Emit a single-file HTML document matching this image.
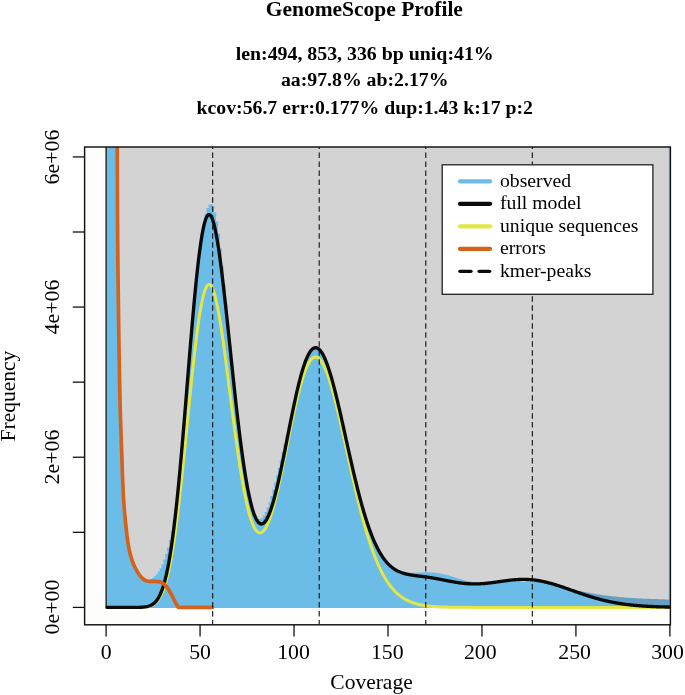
<!DOCTYPE html><html><head><meta charset="utf-8"><title>GenomeScope Profile</title><style>
html,body{margin:0;padding:0}
body{width:685px;height:695px;position:relative;overflow:hidden;background:#ffffff;font-family:"Liberation Serif",serif;color:#000}
.t{position:absolute;white-space:nowrap;line-height:1}
.c{transform:translateX(-50%)}
.b{font-weight:bold}
.leg{font-size:19.7px;left:500.0px}
.xt{font-size:21.8px;transform:translateX(-50%);top:642.1px}
.yt{font-size:21.9px;transform-origin:0 0;transform:rotate(-90deg) translateX(-50%);left:41.2px}
</style></head><body>
<svg width="685" height="695" viewBox="0 0 685 695" style="position:absolute;left:0;top:0">
<defs><clipPath id="c"><rect x="84.6" y="147.0" width="585.8" height="477.79999999999995"/></clipPath></defs>
<rect x="84.6" y="147.0" width="585.8" height="477.79999999999995" fill="#fdfdfb"/>
<g clip-path="url(#c)">
<rect x="106.1" y="142.0" width="569.3" height="465.4" fill="#d3d3d3"/>
<path d="M567.12,607.90 L567.12,588.52 L569.70,588.52 L569.00,589.06 L571.58,589.06 L570.88,589.42 L573.46,589.42 L572.76,589.79 L575.34,589.79 L574.64,590.16 L577.21,590.16 L576.51,590.53 L579.09,590.53 L578.39,590.90 L580.97,590.90 L580.27,591.28 L582.85,591.28 L582.15,591.67 L584.73,591.67 L584.03,592.05 L586.61,592.05 L585.91,592.44 L588.49,592.44 L587.79,592.83 L590.37,592.83 L589.67,593.19 L592.25,593.19 L591.55,593.51 L594.13,593.51 L593.43,593.82 L596.01,593.82 L595.31,594.13 L597.89,594.13 L597.19,594.45 L599.77,594.45 L599.07,594.76 L601.65,594.76 L600.95,595.01 L603.52,595.01 L602.82,595.24 L605.40,595.24 L604.70,595.48 L607.28,595.48 L606.58,595.72 L609.16,595.72 L608.46,595.96 L611.04,595.96 L610.34,596.18 L612.92,596.18 L612.22,596.38 L614.80,596.38 L614.10,596.59 L616.68,596.59 L615.98,596.79 L618.56,596.79 L617.86,597.00 L620.44,597.00 L619.74,597.20 L622.32,597.20 L621.62,597.35 L624.20,597.35 L623.50,597.49 L626.08,597.49 L625.38,597.64 L627.96,597.64 L627.26,597.79 L629.84,597.79 L629.14,597.93 L631.71,597.93 L631.01,598.06 L633.59,598.06 L632.89,598.16 L635.47,598.16 L634.77,598.27 L637.35,598.27 L636.65,598.38 L639.23,598.38 L638.53,598.49 L641.11,598.49 L640.41,598.59 L642.99,598.59 L642.29,598.66 L644.87,598.66 L644.17,598.72 L646.75,598.72 L646.05,598.78 L648.63,598.78 L647.93,598.84 L650.51,598.84 L649.81,598.90 L652.39,598.90 L651.69,598.96 L654.27,598.96 L653.57,599.02 L656.15,599.02 L655.45,599.08 L658.02,599.08 L657.32,599.14 L659.90,599.14 L659.20,599.20 L661.78,599.20 L661.08,599.26 L663.66,599.26 L662.96,599.32 L665.54,599.32 L664.84,599.38 L667.42,599.38 L666.72,599.44 L669.30,599.44 L668.60,599.50 L671.18,599.50 L671.18,607.90Z" fill="#65a0c3"/>
<path d="M106.69,607.90 L106.69,100.00 L109.27,100.00 L108.57,100.00 L111.15,100.00 L110.45,100.00 L113.03,100.00 L112.33,100.00 L114.91,100.00 L114.21,100.00 L116.79,100.00 L116.09,184.12 L118.67,184.12 L117.97,362.91 L120.54,362.91 L119.84,437.02 L122.42,437.02 L121.72,487.68 L124.30,487.68 L123.60,515.81 L126.18,515.81 L125.48,533.70 L128.06,533.70 L127.36,546.80 L129.94,546.80 L129.24,555.21 L131.82,555.21 L131.12,561.29 L133.70,561.29 L133.00,565.91 L135.58,565.91 L134.88,569.58 L137.46,569.58 L136.76,572.74 L139.34,572.74 L138.64,575.42 L141.22,575.42 L140.52,577.48 L143.10,577.48 L142.40,579.07 L144.98,579.07 L144.28,579.83 L146.85,579.83 L146.15,580.09 L148.73,580.09 L148.03,579.86 L150.61,579.86 L149.91,579.08 L152.49,579.08 L151.79,577.93 L154.37,577.93 L153.67,576.33 L156.25,576.33 L155.55,574.23 L158.13,574.23 L157.43,571.49 L160.01,571.49 L159.31,568.17 L161.89,568.17 L161.19,564.23 L163.77,564.23 L163.07,559.49 L165.65,559.49 L164.95,553.94 L167.53,553.94 L166.83,547.57 L169.41,547.57 L168.71,540.04 L171.29,540.04 L170.59,531.05 L173.17,531.05 L172.47,520.55 L175.04,520.55 L174.34,508.50 L176.92,508.50 L176.22,494.03 L178.80,494.03 L178.10,476.08 L180.68,476.08 L179.98,455.45 L182.56,455.45 L181.86,433.68 L184.44,433.68 L183.74,411.10 L186.32,411.10 L185.62,388.04 L188.20,388.04 L187.50,364.91 L190.08,364.91 L189.38,342.12 L191.96,342.12 L191.26,320.08 L193.84,320.08 L193.14,299.19 L195.72,299.19 L195.02,279.81 L197.60,279.81 L196.90,262.25 L199.48,262.25 L198.78,246.74 L201.35,246.74 L200.65,233.47 L203.23,233.47 L202.53,222.53 L205.11,222.53 L204.41,214.02 L206.99,214.02 L206.29,208.03 L208.87,208.03 L208.17,204.68 L210.75,204.68 L210.05,204.17 L212.63,204.17 L211.93,206.70 L214.51,206.70 L213.81,212.45 L216.39,212.45 L215.69,221.48 L218.27,221.48 L217.57,233.65 L220.15,233.65 L219.45,248.62 L222.03,248.62 L221.33,265.85 L223.91,265.85 L223.21,284.68 L225.79,284.68 L225.09,304.45 L227.66,304.45 L226.96,324.54 L229.54,324.54 L228.84,344.50 L231.42,344.50 L230.72,363.96 L233.30,363.96 L232.60,382.70 L235.18,382.70 L234.48,400.59 L237.06,400.59 L236.36,417.51 L238.94,417.51 L238.24,433.37 L240.82,433.37 L240.12,448.10 L242.70,448.10 L242.00,461.62 L244.58,461.62 L243.88,473.85 L246.46,473.85 L245.76,484.71 L248.34,484.71 L247.64,494.15 L250.22,494.15 L249.52,502.12 L252.10,502.12 L251.40,508.56 L253.98,508.56 L253.28,513.47 L255.85,513.47 L255.15,516.83 L257.73,516.83 L257.03,518.66 L259.61,518.66 L258.91,519.00 L261.49,519.00 L260.79,517.94 L263.37,517.94 L262.67,515.57 L265.25,515.57 L264.55,512.04 L267.13,512.04 L266.43,507.51 L269.01,507.51 L268.31,502.14 L270.89,502.14 L270.19,496.10 L272.77,496.10 L272.07,489.54 L274.65,489.54 L273.95,482.60 L276.53,482.60 L275.83,475.36 L278.41,475.36 L277.71,467.89 L280.29,467.89 L279.59,460.22 L282.16,460.22 L281.46,452.37 L284.04,452.37 L283.34,444.34 L285.92,444.34 L285.22,436.15 L287.80,436.15 L287.10,427.84 L289.68,427.84 L288.98,419.47 L291.56,419.47 L290.86,411.10 L293.44,411.10 L292.74,402.83 L295.32,402.83 L294.62,394.77 L297.20,394.77 L296.50,387.04 L299.08,387.04 L298.38,379.76 L300.96,379.76 L300.26,373.02 L302.84,373.02 L302.14,366.94 L304.72,366.94 L304.02,361.58 L306.60,361.58 L305.90,357.04 L308.47,357.04 L307.77,353.35 L310.35,353.35 L309.65,350.57 L312.23,350.57 L311.53,348.71 L314.11,348.71 L313.41,347.79 L315.99,347.79 L315.29,347.81 L317.87,347.81 L317.17,348.76 L319.75,348.76 L319.05,350.62 L321.63,350.62 L320.93,353.35 L323.51,353.35 L322.81,356.90 L325.39,356.90 L324.69,361.24 L327.27,361.24 L326.57,366.31 L329.15,366.31 L328.45,372.04 L331.03,372.04 L330.33,378.36 L332.91,378.36 L332.21,385.21 L334.78,385.21 L334.08,392.52 L336.66,392.52 L335.96,400.20 L338.54,400.20 L337.84,408.19 L340.42,408.19 L339.72,416.42 L342.30,416.42 L341.60,424.80 L344.18,424.80 L343.48,433.28 L346.06,433.28 L345.36,441.79 L347.94,441.79 L347.24,450.26 L349.82,450.26 L349.12,458.65 L351.70,458.65 L351.00,466.89 L353.58,466.89 L352.88,474.94 L355.46,474.94 L354.76,482.76 L357.34,482.76 L356.64,490.31 L359.22,490.31 L358.52,497.56 L361.10,497.56 L360.40,504.49 L362.97,504.49 L362.27,511.07 L364.85,511.07 L364.15,517.29 L366.73,517.29 L366.03,523.13 L368.61,523.13 L367.91,528.60 L370.49,528.60 L369.79,533.68 L372.37,533.68 L371.67,538.38 L374.25,538.38 L373.55,542.71 L376.13,542.71 L375.43,546.67 L378.01,546.67 L377.31,550.27 L379.89,550.27 L379.19,553.53 L381.77,553.53 L381.07,556.46 L383.65,556.46 L382.95,559.07 L385.53,559.07 L384.83,561.38 L387.41,561.38 L386.71,563.42 L389.28,563.42 L388.58,565.19 L391.16,565.19 L390.46,566.72 L393.04,566.72 L392.34,568.02 L394.92,568.02 L394.22,569.12 L396.80,569.12 L396.10,570.04 L398.68,570.04 L397.98,570.78 L400.56,570.78 L399.86,571.38 L402.44,571.38 L401.74,571.84 L404.32,571.84 L403.62,572.18 L406.20,572.18 L405.50,572.42 L408.08,572.42 L407.38,572.57 L409.96,572.57 L409.26,572.66 L411.84,572.66 L411.14,572.68 L413.72,572.68 L413.02,572.67 L415.59,572.67 L414.89,572.62 L417.47,572.62 L416.77,572.55 L419.35,572.55 L418.65,572.48 L421.23,572.48 L420.53,572.40 L423.11,572.40 L422.41,572.35 L424.99,572.35 L424.29,572.31 L426.87,572.31 L426.17,572.30 L428.75,572.30 L428.05,572.34 L430.63,572.34 L429.93,572.41 L432.51,572.41 L431.81,572.54 L434.39,572.54 L433.69,572.71 L436.27,572.71 L435.57,572.94 L438.15,572.94 L437.45,573.22 L440.03,573.22 L439.33,573.56 L441.91,573.56 L441.21,573.95 L443.78,573.95 L443.08,574.38 L445.66,574.38 L444.96,574.86 L447.54,574.86 L446.84,575.37 L449.42,575.37 L448.72,575.91 L451.30,575.91 L450.60,576.48 L453.18,576.48 L452.48,577.06 L455.06,577.06 L454.36,577.65 L456.94,577.65 L456.24,578.23 L458.82,578.23 L458.12,578.80 L460.70,578.80 L460.00,579.36 L462.58,579.36 L461.88,579.89 L464.46,579.89 L463.76,580.38 L466.34,580.38 L465.64,580.84 L468.22,580.84 L467.52,581.26 L470.09,581.26 L469.39,581.62 L471.97,581.62 L471.27,581.94 L473.85,581.94 L473.15,582.21 L475.73,582.21 L475.03,582.42 L477.61,582.42 L476.91,582.59 L479.49,582.59 L478.79,582.70 L481.37,582.70 L480.67,582.77 L483.25,582.77 L482.55,582.79 L485.13,582.79 L484.43,582.77 L487.01,582.77 L486.31,582.72 L488.89,582.72 L488.19,582.64 L490.77,582.64 L490.07,582.54 L492.65,582.54 L491.95,582.42 L494.53,582.42 L493.83,582.29 L496.40,582.29 L495.70,582.16 L498.28,582.16 L497.58,582.03 L500.16,582.03 L499.46,581.91 L502.04,581.91 L501.34,581.80 L503.92,581.80 L503.22,581.71 L505.80,581.71 L505.10,581.63 L507.68,581.63 L506.98,581.58 L509.56,581.58 L508.86,581.54 L511.44,581.54 L510.74,581.52 L513.32,581.52 L512.62,581.52 L515.20,581.52 L514.50,581.53 L517.08,581.53 L516.38,581.55 L518.96,581.55 L518.26,581.57 L520.84,581.57 L520.14,581.61 L522.71,581.61 L522.01,581.64 L524.59,581.64 L523.89,581.67 L526.47,581.67 L525.77,581.71 L528.35,581.71 L527.65,581.75 L530.23,581.75 L529.53,581.80 L532.11,581.80 L531.41,581.86 L533.99,581.86 L533.29,581.94 L535.87,581.94 L535.17,582.03 L537.75,582.03 L537.05,582.16 L539.63,582.16 L538.93,582.31 L541.51,582.31 L540.81,582.50 L543.39,582.50 L542.69,582.73 L545.27,582.73 L544.57,583.00 L547.15,583.00 L546.45,583.32 L549.03,583.32 L548.33,583.68 L550.90,583.68 L550.20,584.08 L552.78,584.08 L552.08,584.53 L554.66,584.53 L553.96,585.01 L556.54,585.01 L555.84,585.53 L558.42,585.53 L557.72,586.07 L560.30,586.07 L559.60,586.65 L562.18,586.65 L561.48,587.25 L564.06,587.25 L563.36,587.87 L565.94,587.87 L565.24,588.50 L567.82,588.50 L567.12,589.11 L569.70,589.11 L569.00,589.78 L571.58,589.78 L570.88,590.45 L573.46,590.45 L572.76,591.11 L575.34,591.11 L574.64,591.78 L577.21,591.78 L576.51,592.44 L579.09,592.44 L578.39,593.09 L580.97,593.09 L580.27,593.74 L582.85,593.74 L582.15,594.38 L584.73,594.38 L584.03,595.00 L586.61,595.00 L585.91,595.61 L588.49,595.61 L587.79,596.21 L590.37,596.21 L589.67,596.79 L592.25,596.79 L591.55,597.36 L594.13,597.36 L593.43,597.91 L596.01,597.91 L595.31,598.45 L597.89,598.45 L597.19,598.96 L599.77,598.96 L599.07,599.46 L601.65,599.46 L600.95,599.94 L603.52,599.94 L602.82,600.40 L605.40,600.40 L604.70,600.84 L607.28,600.84 L606.58,601.26 L609.16,601.26 L608.46,601.66 L611.04,601.66 L610.34,602.05 L612.92,602.05 L612.22,602.41 L614.80,602.41 L614.10,602.76 L616.68,602.76 L615.98,603.08 L618.56,603.08 L617.86,603.39 L620.44,603.39 L619.74,603.69 L622.32,603.69 L621.62,603.96 L624.20,603.96 L623.50,604.22 L626.08,604.22 L625.38,604.47 L627.96,604.47 L627.26,604.69 L629.84,604.69 L629.14,604.91 L631.71,604.91 L631.01,605.11 L633.59,605.11 L632.89,605.30 L635.47,605.30 L634.77,605.47 L637.35,605.47 L636.65,605.63 L639.23,605.63 L638.53,605.78 L641.11,605.78 L640.41,605.92 L642.99,605.92 L642.29,606.05 L644.87,606.05 L644.17,606.17 L646.75,606.17 L646.05,606.28 L648.63,606.28 L647.93,606.38 L650.51,606.38 L649.81,606.47 L652.39,606.47 L651.69,606.56 L654.27,606.56 L653.57,606.64 L656.15,606.64 L655.45,606.71 L658.02,606.71 L657.32,606.78 L659.90,606.78 L659.20,606.84 L661.78,606.84 L661.08,606.89 L663.66,606.89 L662.96,606.94 L665.54,606.94 L664.84,606.99 L667.42,606.99 L666.72,607.03 L669.30,607.03 L668.60,607.07 L671.18,607.07 L671.18,607.90Z" fill="#6cbce8"/>
<line x1="106.1" y1="147.0" x2="106.1" y2="607.4" stroke="#111" stroke-width="1.3"/>
<rect x="668.7" y="147.0" width="1.2" height="460.4" fill="#6cbce8" opacity="0.75"/>
<path d="M109.86,607.40 L110.48,607.40 L111.10,607.40 L111.73,607.40 L112.35,607.40 L112.97,607.40 L113.60,607.40 L114.22,607.40 L114.84,607.40 L115.47,607.40 L116.09,607.40 L116.71,607.40 L117.33,607.40 L117.96,607.40 L118.58,607.40 L119.20,607.40 L119.83,607.40 L120.45,607.40 L121.07,607.40 L121.69,607.40 L122.32,607.40 L122.94,607.40 L123.56,607.40 L124.19,607.40 L124.81,607.40 L125.43,607.40 L126.06,607.40 L126.68,607.40 L127.30,607.40 L127.92,607.40 L128.55,607.40 L129.17,607.40 L129.79,607.40 L130.42,607.40 L131.04,607.40 L131.66,607.40 L132.28,607.39 L132.91,607.39 L133.53,607.39 L134.15,607.39 L134.78,607.38 L135.40,607.38 L136.02,607.37 L136.65,607.37 L137.27,607.36 L137.89,607.35 L138.51,607.34 L139.14,607.33 L139.76,607.31 L140.38,607.29 L141.01,607.27 L141.63,607.24 L142.25,607.21 L142.87,607.17 L143.50,607.13 L144.12,607.07 L144.74,607.01 L145.37,606.94 L145.99,606.86 L146.61,606.76 L147.24,606.65 L147.86,606.53 L148.48,606.39 L149.10,606.22 L149.73,606.04 L150.35,605.83 L150.97,605.59 L151.60,605.32 L152.22,605.02 L152.84,604.69 L153.47,604.31 L154.09,603.89 L154.71,603.43 L155.33,602.91 L155.96,602.34 L156.58,601.71 L157.20,601.02 L157.83,600.25 L158.45,599.42 L159.07,598.51 L159.69,597.52 L160.32,596.43 L160.94,595.26 L161.56,593.99 L162.19,592.61 L162.81,591.13 L163.43,589.54 L164.06,587.83 L164.68,585.99 L165.30,584.03 L165.92,581.93 L166.55,579.70 L167.17,577.33 L167.79,574.82 L168.42,572.15 L169.04,569.34 L169.66,566.37 L170.28,563.24 L170.91,559.96 L171.53,556.51 L172.15,552.90 L172.78,549.14 L173.40,545.20 L174.02,541.11 L174.65,536.86 L175.27,532.44 L175.89,527.87 L176.51,523.15 L177.14,518.28 L177.76,513.26 L178.38,508.10 L179.01,502.80 L179.63,497.37 L180.25,491.82 L180.87,486.15 L181.50,480.38 L182.12,474.51 L182.74,468.54 L183.37,462.49 L183.99,456.38 L184.61,450.20 L185.24,443.97 L185.86,437.71 L186.48,431.41 L187.10,425.11 L187.73,418.80 L188.35,412.49 L188.97,406.22 L189.60,399.97 L190.22,393.78 L190.84,387.64 L191.46,381.58 L192.09,375.61 L192.71,369.73 L193.33,363.97 L193.96,358.33 L194.58,352.83 L195.20,347.47 L195.83,342.27 L196.45,337.25 L197.07,332.40 L197.69,327.74 L198.32,323.28 L198.94,319.04 L199.56,315.00 L200.19,311.20 L200.81,307.63 L201.43,304.29 L202.06,301.21 L202.68,298.37 L203.30,295.79 L203.92,293.46 L204.55,291.40 L205.17,289.61 L205.79,288.08 L206.42,286.82 L207.04,285.82 L207.66,285.10 L208.28,284.64 L208.91,284.45 L209.53,284.53 L210.15,284.86 L210.78,285.45 L211.40,286.30 L212.02,287.39 L212.65,288.73 L213.27,290.31 L213.89,292.12 L214.51,294.15 L215.14,296.41 L215.76,298.87 L216.38,301.55 L217.01,304.41 L217.63,307.47 L218.25,310.70 L218.87,314.11 L219.50,317.67 L220.12,321.39 L220.74,325.25 L221.37,329.25 L221.99,333.37 L222.61,337.61 L223.24,341.95 L223.86,346.39 L224.48,350.91 L225.10,355.51 L225.73,360.18 L226.35,364.90 L226.97,369.68 L227.60,374.50 L228.22,379.34 L228.84,384.21 L229.46,389.09 L230.09,393.98 L230.71,398.87 L231.33,403.75 L231.96,408.60 L232.58,413.44 L233.20,418.23 L233.83,422.99 L234.45,427.71 L235.07,432.37 L235.69,436.97 L236.32,441.51 L236.94,445.98 L237.56,450.37 L238.19,454.68 L238.81,458.90 L239.43,463.04 L240.05,467.08 L240.68,471.02 L241.30,474.87 L241.92,478.60 L242.55,482.23 L243.17,485.74 L243.79,489.14 L244.42,492.43 L245.04,495.59 L245.66,498.63 L246.28,501.55 L246.91,504.35 L247.53,507.01 L248.15,509.55 L248.78,511.96 L249.40,514.24 L250.02,516.39 L250.65,518.41 L251.27,520.29 L251.89,522.05 L252.51,523.67 L253.14,525.15 L253.76,526.51 L254.38,527.73 L255.01,528.82 L255.63,529.78 L256.25,530.61 L256.87,531.31 L257.50,531.87 L258.12,532.31 L258.74,532.63 L259.37,532.81 L259.99,532.87 L260.61,532.81 L261.24,532.62 L261.86,532.32 L262.48,531.89 L263.10,531.35 L263.73,530.69 L264.35,529.91 L264.97,529.02 L265.60,528.03 L266.22,526.92 L266.84,525.71 L267.46,524.39 L268.09,522.97 L268.71,521.46 L269.33,519.84 L269.96,518.13 L270.58,516.33 L271.20,514.44 L271.83,512.46 L272.45,510.40 L273.07,508.26 L273.69,506.04 L274.32,503.74 L274.94,501.38 L275.56,498.94 L276.19,496.44 L276.81,493.88 L277.43,491.25 L278.05,488.57 L278.68,485.84 L279.30,483.06 L279.92,480.23 L280.55,477.37 L281.17,474.46 L281.79,471.52 L282.42,468.55 L283.04,465.55 L283.66,462.52 L284.28,459.48 L284.91,456.42 L285.53,453.34 L286.15,450.26 L286.78,447.18 L287.40,444.09 L288.02,441.00 L288.65,437.93 L289.27,434.86 L289.89,431.80 L290.51,428.77 L291.14,425.75 L291.76,422.76 L292.38,419.80 L293.01,416.87 L293.63,413.98 L294.25,411.12 L294.87,408.31 L295.50,405.54 L296.12,402.83 L296.74,400.17 L297.37,397.56 L297.99,395.01 L298.61,392.53 L299.24,390.11 L299.86,387.75 L300.48,385.47 L301.10,383.26 L301.73,381.13 L302.35,379.07 L302.97,377.10 L303.60,375.21 L304.22,373.40 L304.84,371.68 L305.46,370.05 L306.09,368.51 L306.71,367.06 L307.33,365.70 L307.96,364.44 L308.58,363.27 L309.20,362.21 L309.83,361.24 L310.45,360.37 L311.07,359.59 L311.69,358.92 L312.32,358.35 L312.94,357.88 L313.56,357.51 L314.19,357.25 L314.81,357.08 L315.43,357.01 L316.05,357.05 L316.68,357.18 L317.30,357.42 L317.92,357.75 L318.55,358.18 L319.17,358.71 L319.79,359.33 L320.42,360.05 L321.04,360.86 L321.66,361.77 L322.28,362.76 L322.91,363.85 L323.53,365.02 L324.15,366.28 L324.78,367.62 L325.40,369.05 L326.02,370.55 L326.64,372.13 L327.27,373.79 L327.89,375.53 L328.51,377.33 L329.14,379.21 L329.76,381.15 L330.38,383.15 L331.01,385.22 L331.63,387.35 L332.25,389.54 L332.87,391.79 L333.50,394.08 L334.12,396.43 L334.74,398.82 L335.37,401.26 L335.99,403.74 L336.61,406.26 L337.24,408.82 L337.86,411.42 L338.48,414.04 L339.10,416.70 L339.73,419.39 L340.35,422.10 L340.97,424.83 L341.60,427.58 L342.22,430.35 L342.84,433.14 L343.46,435.94 L344.09,438.75 L344.71,441.56 L345.33,444.39 L345.96,447.22 L346.58,450.05 L347.20,452.88 L347.83,455.71 L348.45,458.53 L349.07,461.35 L349.69,464.16 L350.32,466.97 L350.94,469.76 L351.56,472.53 L352.19,475.30 L352.81,478.04 L353.43,480.77 L354.05,483.48 L354.68,486.17 L355.30,488.84 L355.92,491.48 L356.55,494.10 L357.17,496.69 L357.79,499.26 L358.42,501.80 L359.04,504.31 L359.66,506.79 L360.28,509.24 L360.91,511.66 L361.53,514.05 L362.15,516.40 L362.78,518.72 L363.40,521.01 L364.02,523.26 L364.64,525.48 L365.27,527.66 L365.89,529.81 L366.51,531.92 L367.14,533.99 L367.76,536.03 L368.38,538.03 L369.01,539.99 L369.63,541.91 L370.25,543.80 L370.87,545.65 L371.50,547.47 L372.12,549.24 L372.74,550.98 L373.37,552.69 L373.99,554.35 L374.61,555.98 L375.23,557.57 L375.86,559.13 L376.48,560.65 L377.10,562.13 L377.73,563.58 L378.35,564.99 L378.97,566.37 L379.60,567.72 L380.22,569.03 L380.84,570.30 L381.46,571.55 L382.09,572.76 L382.71,573.94 L383.33,575.08 L383.96,576.20 L384.58,577.29 L385.20,578.34 L385.83,579.36 L386.45,580.36 L387.07,581.33 L387.69,582.27 L388.32,583.18 L388.94,584.06 L389.56,584.92 L390.19,585.75 L390.81,586.55 L391.43,587.33 L392.05,588.09 L392.68,588.82 L393.30,589.53 L393.92,590.21 L394.55,590.88 L395.17,591.52 L395.79,592.14 L396.42,592.74 L397.04,593.32 L397.66,593.88 L398.28,594.42 L398.91,594.94 L399.53,595.44 L400.15,595.93 L400.78,596.40 L401.40,596.85 L402.02,597.29 L402.64,597.71 L403.27,598.11 L403.89,598.50 L404.51,598.88 L405.14,599.24 L405.76,599.59 L406.38,599.92 L407.01,600.24 L407.63,600.55 L408.25,600.85 L408.87,601.14 L409.50,601.41 L410.12,601.68 L410.74,601.93 L411.37,602.17 L411.99,602.41 L412.61,602.63 L413.23,602.85 L413.86,603.05 L414.48,603.25 L415.10,603.44 L415.73,603.62 L416.35,603.80 L416.97,603.97 L417.60,604.13 L418.22,604.28 L418.84,604.43 L419.46,604.57 L420.09,604.70 L420.71,604.83 L421.33,604.95 L421.96,605.07 L422.58,605.18 L423.20,605.29 L423.83,605.39 L424.45,605.49 L425.07,605.58 L425.69,605.67 L426.32,605.76 L426.94,605.84 L427.56,605.92 L428.19,605.99 L428.81,606.06 L429.43,606.13 L430.05,606.19 L430.68,606.25 L431.30,606.31 L431.92,606.37 L432.55,606.42 L433.17,606.47 L433.79,606.52 L434.42,606.56 L435.04,606.61 L435.66,606.65 L436.28,606.69 L436.91,606.73 L437.53,606.76 L438.15,606.80 L438.78,606.83 L439.40,606.86 L440.02,606.89 L440.64,606.91 L441.27,606.94 L441.89,606.97 L442.51,606.99 L443.14,607.01 L443.76,607.03 L444.38,607.05 L445.01,607.07 L445.63,607.09 L446.25,607.11 L446.87,607.12 L447.50,607.14 L448.12,607.15 L448.74,607.17 L449.37,607.18 L449.99,607.19 L450.61,607.20 L451.23,607.22 L451.86,607.23 L452.48,607.24 L453.10,607.24 L453.73,607.25 L454.35,607.26 L454.97,607.27 L455.60,607.28 L456.22,607.28 L456.84,607.29 L457.46,607.30 L458.09,607.30 L458.71,607.31 L459.33,607.31 L459.96,607.32 L460.58,607.32 L461.20,607.33 L461.82,607.33 L462.45,607.34 L463.07,607.34 L463.69,607.34 L464.32,607.35 L464.94,607.35 L465.56,607.35 L466.19,607.36 L466.81,607.36 L467.43,607.36 L468.05,607.36 L468.68,607.37 L469.30,607.37 L469.92,607.37 L470.55,607.37 L471.17,607.37 L471.79,607.38 L472.42,607.38 L473.04,607.38 L473.66,607.38 L474.28,607.38 L474.91,607.38 L475.53,607.38 L476.15,607.38 L476.78,607.39 L477.40,607.39 L478.02,607.39 L478.64,607.39 L479.27,607.39 L479.89,607.39 L480.51,607.39 L481.14,607.39 L481.76,607.39 L482.38,607.39 L483.01,607.39 L483.63,607.39 L484.25,607.39 L484.87,607.39 L485.50,607.39 L486.12,607.39 L486.74,607.39 L487.37,607.40 L487.99,607.40 L488.61,607.40 L489.23,607.40 L489.86,607.40 L490.48,607.40 L491.10,607.40 L491.73,607.40 L492.35,607.40 L492.97,607.40 L493.60,607.40 L494.22,607.40 L494.84,607.40 L495.46,607.40 L496.09,607.40 L496.71,607.40 L497.33,607.40 L497.96,607.40 L498.58,607.40 L499.20,607.40 L499.82,607.40 L500.45,607.40 L501.07,607.40 L501.69,607.40 L502.32,607.40 L502.94,607.40 L503.56,607.40 L504.19,607.40 L504.81,607.40 L505.43,607.40 L506.05,607.40 L506.68,607.40 L507.30,607.40 L507.92,607.40 L508.55,607.40 L509.17,607.40 L509.79,607.40 L510.41,607.40 L511.04,607.40 L511.66,607.40 L512.28,607.40 L512.91,607.40 L513.53,607.40 L514.15,607.40 L514.78,607.40 L515.40,607.40 L516.02,607.40 L516.64,607.40 L517.27,607.40 L517.89,607.40 L518.51,607.40 L519.14,607.40 L519.76,607.40 L520.38,607.40 L521.01,607.40 L521.63,607.40 L522.25,607.40 L522.87,607.40 L523.50,607.40 L524.12,607.40 L524.74,607.40 L525.37,607.40 L525.99,607.40 L526.61,607.40 L527.23,607.40 L527.86,607.40 L528.48,607.40 L529.10,607.40 L529.73,607.40 L530.35,607.40 L530.97,607.40 L531.60,607.40 L532.22,607.40 L532.84,607.40 L533.46,607.40 L534.09,607.40 L534.71,607.40 L535.33,607.40 L535.96,607.40 L536.58,607.40 L537.20,607.40 L537.82,607.40 L538.45,607.40 L539.07,607.40 L539.69,607.40 L540.32,607.40 L540.94,607.40 L541.56,607.40 L542.19,607.40 L542.81,607.40 L543.43,607.40 L544.05,607.40 L544.68,607.40 L545.30,607.40 L545.92,607.40 L546.55,607.40 L547.17,607.40 L547.79,607.40 L548.41,607.40 L549.04,607.40 L549.66,607.40 L550.28,607.40 L550.91,607.40 L551.53,607.40 L552.15,607.40 L552.78,607.40 L553.40,607.40 L554.02,607.40 L554.64,607.40 L555.27,607.40 L555.89,607.40 L556.51,607.40 L557.14,607.40 L557.76,607.40 L558.38,607.40 L559.01,607.40 L559.63,607.40 L560.25,607.40 L560.87,607.40 L561.50,607.40 L562.12,607.40 L562.74,607.40 L563.37,607.40 L563.99,607.40 L564.61,607.40 L565.23,607.40 L565.86,607.40 L566.48,607.40 L567.10,607.40 L567.73,607.40 L568.35,607.40 L568.97,607.40 L569.60,607.40 L570.22,607.40 L570.84,607.40 L571.46,607.40 L572.09,607.40 L572.71,607.40 L573.33,607.40 L573.96,607.40 L574.58,607.40 L575.20,607.40 L575.82,607.40 L576.45,607.40 L577.07,607.40 L577.69,607.40 L578.32,607.40 L578.94,607.40 L579.56,607.40 L580.19,607.40 L580.81,607.40 L581.43,607.40 L582.05,607.40 L582.68,607.40 L583.30,607.40 L583.92,607.40 L584.55,607.40 L585.17,607.40 L585.79,607.40 L586.41,607.40 L587.04,607.40 L587.66,607.40 L588.28,607.40 L588.91,607.40 L589.53,607.40 L590.15,607.40 L590.78,607.40 L591.40,607.40 L592.02,607.40 L592.64,607.40 L593.27,607.40 L593.89,607.40 L594.51,607.40 L595.14,607.40 L595.76,607.40 L596.38,607.40 L597.00,607.40 L597.63,607.40 L598.25,607.40 L598.87,607.40 L599.50,607.40 L600.12,607.40 L600.74,607.40 L601.37,607.40 L601.99,607.40 L602.61,607.40 L603.23,607.40 L603.86,607.40 L604.48,607.40 L605.10,607.40 L605.73,607.40 L606.35,607.40 L606.97,607.40 L607.60,607.40 L608.22,607.40 L608.84,607.40 L609.46,607.40 L610.09,607.40 L610.71,607.40 L611.33,607.40 L611.96,607.40 L612.58,607.40 L613.20,607.40 L613.82,607.40 L614.45,607.40 L615.07,607.40 L615.69,607.40 L616.32,607.40 L616.94,607.40 L617.56,607.40 L618.19,607.40 L618.81,607.40 L619.43,607.40 L620.05,607.40 L620.68,607.40 L621.30,607.40 L621.92,607.40 L622.55,607.40 L623.17,607.40 L623.79,607.40 L624.41,607.40 L625.04,607.40 L625.66,607.40 L626.28,607.40 L626.91,607.40 L627.53,607.40 L628.15,607.40 L628.78,607.40 L629.40,607.40 L630.02,607.40 L630.64,607.40 L631.27,607.40 L631.89,607.40 L632.51,607.40 L633.14,607.40 L633.76,607.40 L634.38,607.40 L635.00,607.40 L635.63,607.40 L636.25,607.40 L636.87,607.40 L637.50,607.40 L638.12,607.40 L638.74,607.40 L639.37,607.40 L639.99,607.40 L640.61,607.40 L641.23,607.40 L641.86,607.40 L642.48,607.40 L643.10,607.40 L643.73,607.40 L644.35,607.40 L644.97,607.40 L645.59,607.40 L646.22,607.40 L646.84,607.40 L647.46,607.40 L648.09,607.40 L648.71,607.40 L649.33,607.40 L649.96,607.40 L650.58,607.40 L651.20,607.40 L651.82,607.40 L652.45,607.40 L653.07,607.40 L653.69,607.40 L654.32,607.40 L654.94,607.40 L655.56,607.40 L656.19,607.40 L656.81,607.40 L657.43,607.40 L658.05,607.40 L658.68,607.40 L659.30,607.40 L659.92,607.40 L660.55,607.40 L661.17,607.40 L661.79,607.40 L662.41,607.40 L663.04,607.40 L663.66,607.40 L664.28,607.40 L664.91,607.40 L665.53,607.40 L666.15,607.40 L666.78,607.40 L667.40,607.40 L668.02,607.40 L668.64,607.40 L669.27,607.40 L669.89,607.40" fill="none" stroke="#e3e746" stroke-width="3.0" stroke-linejoin="round" stroke-linecap="round"/>
<path d="M107.04,607.40 L107.67,607.40 L108.29,607.40 L108.92,607.40 L109.54,607.40 L110.17,607.40 L110.80,607.40 L111.42,607.40 L112.05,607.40 L112.67,607.40 L113.30,607.40 L113.93,607.40 L114.55,607.40 L115.18,607.40 L115.80,607.40 L116.43,607.40 L117.06,607.40 L117.68,607.40 L118.31,607.40 L118.94,607.40 L119.56,607.40 L120.19,607.40 L120.81,607.40 L121.44,607.40 L122.07,607.40 L122.69,607.40 L123.32,607.40 L123.94,607.40 L124.57,607.40 L125.20,607.40 L125.82,607.40 L126.45,607.40 L127.07,607.40 L127.70,607.40 L128.33,607.40 L128.95,607.40 L129.58,607.40 L130.20,607.40 L130.83,607.40 L131.46,607.39 L132.08,607.39 L132.71,607.39 L133.34,607.39 L133.96,607.39 L134.59,607.38 L135.21,607.38 L135.84,607.37 L136.47,607.36 L137.09,607.36 L137.72,607.34 L138.34,607.33 L138.97,607.32 L139.60,607.30 L140.22,607.27 L140.85,607.25 L141.47,607.22 L142.10,607.18 L142.73,607.13 L143.35,607.08 L143.98,607.02 L144.60,606.95 L145.23,606.86 L145.86,606.76 L146.48,606.65 L147.11,606.52 L147.74,606.37 L148.36,606.20 L148.99,606.01 L149.61,605.79 L150.24,605.54 L150.87,605.25 L151.49,604.93 L152.12,604.57 L152.74,604.17 L153.37,603.72 L154.00,603.21 L154.62,602.65 L155.25,602.03 L155.87,601.34 L156.50,600.58 L157.13,599.74 L157.75,598.82 L158.38,597.81 L159.00,596.71 L159.63,595.50 L160.26,594.19 L160.88,592.77 L161.51,591.23 L162.14,589.56 L162.76,587.76 L163.39,585.82 L164.01,583.73 L164.64,581.50 L165.27,579.11 L165.89,576.56 L166.52,573.84 L167.14,570.95 L167.77,567.88 L168.40,564.63 L169.02,561.19 L169.65,557.57 L170.27,553.75 L170.90,549.74 L171.53,545.53 L172.15,541.12 L172.78,536.51 L173.40,531.70 L174.03,526.69 L174.66,521.49 L175.28,516.09 L175.91,510.50 L176.54,504.72 L177.16,498.76 L177.79,492.61 L178.41,486.29 L179.04,479.81 L179.67,473.16 L180.29,466.37 L180.92,459.43 L181.54,452.36 L182.17,445.17 L182.80,437.87 L183.42,430.47 L184.05,422.99 L184.67,415.43 L185.30,407.81 L185.93,400.14 L186.55,392.45 L187.18,384.74 L187.80,377.02 L188.43,369.32 L189.06,361.65 L189.68,354.02 L190.31,346.46 L190.94,338.97 L191.56,331.58 L192.19,324.29 L192.81,317.13 L193.44,310.11 L194.07,303.24 L194.69,296.54 L195.32,290.03 L195.94,283.71 L196.57,277.61 L197.20,271.73 L197.82,266.08 L198.45,260.68 L199.07,255.55 L199.70,250.68 L200.33,246.09 L200.95,241.79 L201.58,237.78 L202.20,234.08 L202.83,230.69 L203.46,227.61 L204.08,224.85 L204.71,222.41 L205.33,220.30 L205.96,218.52 L206.59,217.07 L207.21,215.95 L207.84,215.16 L208.47,214.70 L209.09,214.56 L209.72,214.75 L210.34,215.25 L210.97,216.07 L211.60,217.20 L212.22,218.64 L212.85,220.37 L213.47,222.40 L214.10,224.71 L214.73,227.29 L215.35,230.14 L215.98,233.25 L216.60,236.60 L217.23,240.20 L217.86,244.02 L218.48,248.06 L219.11,252.30 L219.73,256.74 L220.36,261.36 L220.99,266.16 L221.61,271.12 L222.24,276.22 L222.87,281.46 L223.49,286.83 L224.12,292.32 L224.74,297.90 L225.37,303.58 L226.00,309.33 L226.62,315.16 L227.25,321.04 L227.87,326.96 L228.50,332.92 L229.13,338.91 L229.75,344.91 L230.38,350.91 L231.00,356.91 L231.63,362.90 L232.26,368.85 L232.88,374.78 L233.51,380.66 L234.13,386.50 L234.76,392.28 L235.39,397.99 L236.01,403.62 L236.64,409.18 L237.27,414.65 L237.89,420.03 L238.52,425.31 L239.14,430.49 L239.77,435.56 L240.40,440.51 L241.02,445.35 L241.65,450.06 L242.27,454.64 L242.90,459.10 L243.53,463.42 L244.15,467.60 L244.78,471.65 L245.40,475.55 L246.03,479.30 L246.66,482.91 L247.28,486.37 L247.91,489.69 L248.53,492.85 L249.16,495.85 L249.79,498.71 L250.41,501.41 L251.04,503.96 L251.67,506.35 L252.29,508.58 L252.92,510.67 L253.54,512.60 L254.17,514.37 L254.80,515.99 L255.42,517.46 L256.05,518.78 L256.67,519.94 L257.30,520.96 L257.93,521.82 L258.55,522.54 L259.18,523.11 L259.80,523.54 L260.43,523.83 L261.06,523.97 L261.68,523.98 L262.31,523.85 L262.93,523.58 L263.56,523.18 L264.19,522.65 L264.81,521.99 L265.44,521.21 L266.07,520.30 L266.69,519.27 L267.32,518.12 L267.94,516.85 L268.57,515.48 L269.20,513.99 L269.82,512.39 L270.45,510.69 L271.07,508.89 L271.70,506.99 L272.33,504.99 L272.95,502.91 L273.58,500.73 L274.20,498.47 L274.83,496.13 L275.46,493.71 L276.08,491.21 L276.71,488.64 L277.33,486.01 L277.96,483.31 L278.59,480.56 L279.21,477.74 L279.84,474.88 L280.47,471.96 L281.09,469.00 L281.72,466.01 L282.34,462.97 L282.97,459.90 L283.60,456.81 L284.22,453.69 L284.85,450.55 L285.47,447.39 L286.10,444.22 L286.73,441.04 L287.35,437.86 L287.98,434.68 L288.60,431.51 L289.23,428.34 L289.86,425.19 L290.48,422.05 L291.11,418.93 L291.73,415.84 L292.36,412.77 L292.99,409.74 L293.61,406.74 L294.24,403.79 L294.87,400.87 L295.49,398.01 L296.12,395.19 L296.74,392.43 L297.37,389.73 L298.00,387.08 L298.62,384.51 L299.25,381.99 L299.87,379.55 L300.50,377.18 L301.13,374.89 L301.75,372.68 L302.38,370.54 L303.00,368.50 L303.63,366.53 L304.26,364.66 L304.88,362.87 L305.51,361.18 L306.13,359.58 L306.76,358.08 L307.39,356.67 L308.01,355.36 L308.64,354.16 L309.27,353.05 L309.89,352.05 L310.52,351.14 L311.14,350.35 L311.77,349.65 L312.40,349.06 L313.02,348.58 L313.65,348.20 L314.27,347.93 L314.90,347.76 L315.53,347.69 L316.15,347.73 L316.78,347.87 L317.40,348.12 L318.03,348.47 L318.66,348.92 L319.28,349.47 L319.91,350.11 L320.53,350.86 L321.16,351.70 L321.79,352.64 L322.41,353.67 L323.04,354.80 L323.67,356.01 L324.29,357.31 L324.92,358.70 L325.54,360.17 L326.17,361.73 L326.80,363.36 L327.42,365.07 L328.05,366.86 L328.67,368.72 L329.30,370.65 L329.93,372.65 L330.55,374.71 L331.18,376.84 L331.80,379.02 L332.43,381.27 L333.06,383.57 L333.68,385.92 L334.31,388.32 L334.93,390.77 L335.56,393.26 L336.19,395.79 L336.81,398.37 L337.44,400.97 L338.06,403.62 L338.69,406.29 L339.32,408.99 L339.94,411.71 L340.57,414.46 L341.20,417.23 L341.82,420.01 L342.45,422.81 L343.07,425.62 L343.70,428.44 L344.33,431.27 L344.95,434.10 L345.58,436.94 L346.20,439.77 L346.83,442.60 L347.46,445.43 L348.08,448.25 L348.71,451.07 L349.33,453.87 L349.96,456.66 L350.59,459.44 L351.21,462.20 L351.84,464.94 L352.46,467.66 L353.09,470.36 L353.72,473.03 L354.34,475.69 L354.97,478.31 L355.60,480.91 L356.22,483.48 L356.85,486.02 L357.47,488.52 L358.10,491.00 L358.73,493.44 L359.35,495.85 L359.98,498.22 L360.60,500.55 L361.23,502.85 L361.86,505.11 L362.48,507.33 L363.11,509.52 L363.73,511.66 L364.36,513.76 L364.99,515.82 L365.61,517.84 L366.24,519.82 L366.86,521.76 L367.49,523.65 L368.12,525.51 L368.74,527.32 L369.37,529.09 L370.00,530.82 L370.62,532.50 L371.25,534.14 L371.87,535.75 L372.50,537.31 L373.13,538.82 L373.75,540.30 L374.38,541.73 L375.00,543.13 L375.63,544.48 L376.26,545.80 L376.88,547.07 L377.51,548.31 L378.13,549.51 L378.76,550.66 L379.39,551.79 L380.01,552.87 L380.64,553.92 L381.26,554.93 L381.89,555.91 L382.52,556.85 L383.14,557.76 L383.77,558.63 L384.40,559.47 L385.02,560.28 L385.65,561.06 L386.27,561.81 L386.90,562.53 L387.53,563.22 L388.15,563.88 L388.78,564.51 L389.40,565.12 L390.03,565.70 L390.66,566.26 L391.28,566.79 L391.91,567.30 L392.53,567.78 L393.16,568.24 L393.79,568.68 L394.41,569.10 L395.04,569.50 L395.66,569.88 L396.29,570.24 L396.92,570.58 L397.54,570.91 L398.17,571.22 L398.80,571.51 L399.42,571.79 L400.05,572.05 L400.67,572.30 L401.30,572.54 L401.93,572.76 L402.55,572.97 L403.18,573.17 L403.80,573.36 L404.43,573.54 L405.06,573.71 L405.68,573.87 L406.31,574.03 L406.93,574.17 L407.56,574.31 L408.19,574.44 L408.81,574.57 L409.44,574.69 L410.06,574.80 L410.69,574.91 L411.32,575.01 L411.94,575.11 L412.57,575.21 L413.20,575.30 L413.82,575.39 L414.45,575.48 L415.07,575.56 L415.70,575.65 L416.33,575.73 L416.95,575.81 L417.58,575.89 L418.20,575.97 L418.83,576.04 L419.46,576.12 L420.08,576.20 L420.71,576.28 L421.33,576.36 L421.96,576.43 L422.59,576.51 L423.21,576.59 L423.84,576.68 L424.46,576.76 L425.09,576.84 L425.72,576.93 L426.34,577.01 L426.97,577.10 L427.60,577.19 L428.22,577.28 L428.85,577.37 L429.47,577.47 L430.10,577.56 L430.73,577.66 L431.35,577.76 L431.98,577.86 L432.60,577.97 L433.23,578.07 L433.86,578.18 L434.48,578.29 L435.11,578.40 L435.73,578.51 L436.36,578.62 L436.99,578.73 L437.61,578.85 L438.24,578.96 L438.86,579.08 L439.49,579.20 L440.12,579.32 L440.74,579.44 L441.37,579.56 L442.00,579.68 L442.62,579.80 L443.25,579.93 L443.87,580.05 L444.50,580.17 L445.13,580.30 L445.75,580.42 L446.38,580.54 L447.00,580.66 L447.63,580.78 L448.26,580.91 L448.88,581.03 L449.51,581.15 L450.13,581.26 L450.76,581.38 L451.39,581.50 L452.01,581.61 L452.64,581.72 L453.26,581.84 L453.89,581.95 L454.52,582.05 L455.14,582.16 L455.77,582.26 L456.40,582.36 L457.02,582.46 L457.65,582.56 L458.27,582.65 L458.90,582.74 L459.53,582.83 L460.15,582.92 L460.78,583.00 L461.40,583.08 L462.03,583.15 L462.66,583.23 L463.28,583.30 L463.91,583.36 L464.53,583.42 L465.16,583.48 L465.79,583.54 L466.41,583.59 L467.04,583.64 L467.66,583.68 L468.29,583.72 L468.92,583.76 L469.54,583.79 L470.17,583.82 L470.79,583.85 L471.42,583.87 L472.05,583.89 L472.67,583.90 L473.30,583.91 L473.93,583.92 L474.55,583.92 L475.18,583.92 L475.80,583.91 L476.43,583.91 L477.06,583.89 L477.68,583.88 L478.31,583.86 L478.93,583.83 L479.56,583.81 L480.19,583.77 L480.81,583.74 L481.44,583.70 L482.06,583.66 L482.69,583.62 L483.32,583.57 L483.94,583.52 L484.57,583.47 L485.19,583.41 L485.82,583.35 L486.45,583.29 L487.07,583.23 L487.70,583.16 L488.33,583.09 L488.95,583.02 L489.58,582.95 L490.20,582.88 L490.83,582.80 L491.46,582.72 L492.08,582.64 L492.71,582.56 L493.33,582.47 L493.96,582.39 L494.59,582.31 L495.21,582.22 L495.84,582.13 L496.46,582.04 L497.09,581.95 L497.72,581.87 L498.34,581.78 L498.97,581.69 L499.59,581.60 L500.22,581.51 L500.85,581.42 L501.47,581.33 L502.10,581.24 L502.73,581.15 L503.35,581.07 L503.98,580.98 L504.60,580.89 L505.23,580.81 L505.86,580.73 L506.48,580.65 L507.11,580.57 L507.73,580.49 L508.36,580.41 L508.99,580.34 L509.61,580.27 L510.24,580.20 L510.86,580.13 L511.49,580.06 L512.12,580.00 L512.74,579.94 L513.37,579.88 L513.99,579.83 L514.62,579.78 L515.25,579.73 L515.87,579.68 L516.50,579.64 L517.13,579.60 L517.75,579.56 L518.38,579.53 L519.00,579.50 L519.63,579.48 L520.26,579.46 L520.88,579.44 L521.51,579.43 L522.13,579.42 L522.76,579.41 L523.39,579.41 L524.01,579.41 L524.64,579.42 L525.26,579.43 L525.89,579.44 L526.52,579.46 L527.14,579.48 L527.77,579.51 L528.39,579.54 L529.02,579.58 L529.65,579.62 L530.27,579.66 L530.90,579.71 L531.53,579.76 L532.15,579.82 L532.78,579.88 L533.40,579.95 L534.03,580.02 L534.66,580.09 L535.28,580.17 L535.91,580.26 L536.53,580.34 L537.16,580.44 L537.79,580.53 L538.41,580.63 L539.04,580.74 L539.66,580.84 L540.29,580.96 L540.92,581.07 L541.54,581.19 L542.17,581.32 L542.79,581.45 L543.42,581.58 L544.05,581.71 L544.67,581.85 L545.30,582.00 L545.93,582.14 L546.55,582.29 L547.18,582.45 L547.80,582.60 L548.43,582.76 L549.06,582.93 L549.68,583.09 L550.31,583.26 L550.93,583.44 L551.56,583.61 L552.19,583.79 L552.81,583.97 L553.44,584.16 L554.06,584.34 L554.69,584.53 L555.32,584.72 L555.94,584.92 L556.57,585.11 L557.19,585.31 L557.82,585.51 L558.45,585.71 L559.07,585.92 L559.70,586.12 L560.33,586.33 L560.95,586.54 L561.58,586.75 L562.20,586.96 L562.83,587.17 L563.46,587.39 L564.08,587.60 L564.71,587.82 L565.33,588.04 L565.96,588.25 L566.59,588.47 L567.21,588.69 L567.84,588.91 L568.46,589.13 L569.09,589.36 L569.72,589.58 L570.34,589.80 L570.97,590.02 L571.59,590.24 L572.22,590.47 L572.85,590.69 L573.47,590.91 L574.10,591.13 L574.73,591.36 L575.35,591.58 L575.98,591.80 L576.60,592.02 L577.23,592.24 L577.86,592.46 L578.48,592.68 L579.11,592.89 L579.73,593.11 L580.36,593.33 L580.99,593.54 L581.61,593.76 L582.24,593.97 L582.86,594.18 L583.49,594.39 L584.12,594.60 L584.74,594.81 L585.37,595.02 L585.99,595.22 L586.62,595.42 L587.25,595.63 L587.87,595.83 L588.50,596.03 L589.13,596.22 L589.75,596.42 L590.38,596.62 L591.00,596.81 L591.63,597.00 L592.26,597.19 L592.88,597.37 L593.51,597.56 L594.13,597.74 L594.76,597.93 L595.39,598.10 L596.01,598.28 L596.64,598.46 L597.26,598.63 L597.89,598.80 L598.52,598.97 L599.14,599.14 L599.77,599.31 L600.39,599.47 L601.02,599.63 L601.65,599.79 L602.27,599.95 L602.90,600.10 L603.52,600.26 L604.15,600.41 L604.78,600.56 L605.40,600.70 L606.03,600.85 L606.66,600.99 L607.28,601.13 L607.91,601.27 L608.53,601.40 L609.16,601.54 L609.79,601.67 L610.41,601.80 L611.04,601.93 L611.66,602.05 L612.29,602.18 L612.92,602.30 L613.54,602.42 L614.17,602.53 L614.79,602.65 L615.42,602.76 L616.05,602.87 L616.67,602.98 L617.30,603.09 L617.92,603.19 L618.55,603.30 L619.18,603.40 L619.80,603.50 L620.43,603.59 L621.06,603.69 L621.68,603.78 L622.31,603.88 L622.93,603.97 L623.56,604.05 L624.19,604.14 L624.81,604.23 L625.44,604.31 L626.06,604.39 L626.69,604.47 L627.32,604.55 L627.94,604.62 L628.57,604.70 L629.19,604.77 L629.82,604.84 L630.45,604.91 L631.07,604.98 L631.70,605.05 L632.32,605.11 L632.95,605.17 L633.58,605.24 L634.20,605.30 L634.83,605.36 L635.46,605.41 L636.08,605.47 L636.71,605.53 L637.33,605.58 L637.96,605.63 L638.59,605.68 L639.21,605.73 L639.84,605.78 L640.46,605.83 L641.09,605.88 L641.72,605.92 L642.34,605.97 L642.97,606.01 L643.59,606.05 L644.22,606.09 L644.85,606.13 L645.47,606.17 L646.10,606.21 L646.72,606.24 L647.35,606.28 L647.98,606.31 L648.60,606.35 L649.23,606.38 L649.86,606.41 L650.48,606.44 L651.11,606.47 L651.73,606.50 L652.36,606.53 L652.99,606.56 L653.61,606.59 L654.24,606.61 L654.86,606.64 L655.49,606.66 L656.12,606.69 L656.74,606.71 L657.37,606.73 L657.99,606.76 L658.62,606.78 L659.25,606.80 L659.87,606.82 L660.50,606.84 L661.12,606.86 L661.75,606.88 L662.38,606.89 L663.00,606.91 L663.63,606.93 L664.26,606.94 L664.88,606.96 L665.51,606.97 L666.13,606.99 L666.76,607.00 L667.39,607.02 L668.01,607.03 L668.64,607.04 L669.26,607.06 L669.89,607.07" fill="none" stroke="#0a0a0a" stroke-width="3.35" stroke-linejoin="round" stroke-linecap="round"/>
<path d="M117.00,120.00 L117.01,121.28 L117.02,122.57 L117.03,123.85 L117.04,125.14 L117.05,126.42 L117.06,127.70 L117.07,128.99 L117.08,130.27 L117.09,131.56 L117.10,132.84 L117.11,134.12 L117.12,135.41 L117.13,136.69 L117.14,137.98 L117.15,139.26 L117.16,140.54 L117.17,141.83 L117.18,143.11 L117.18,144.40 L117.19,145.68 L117.20,146.96 L117.21,148.25 L117.22,149.53 L117.22,150.82 L117.23,152.10 L117.24,153.38 L117.24,154.67 L117.25,155.95 L117.26,157.24 L117.26,158.52 L117.27,159.80 L117.28,161.09 L117.28,162.37 L117.29,163.66 L117.29,164.94 L117.30,166.22 L117.31,167.51 L117.31,168.79 L117.32,170.08 L117.32,171.36 L117.33,172.64 L117.33,173.93 L117.34,175.21 L117.34,176.50 L117.35,177.78 L117.36,179.06 L117.36,180.35 L117.37,181.63 L117.37,182.92 L117.38,184.20 L117.38,185.48 L117.39,186.77 L117.39,188.05 L117.40,189.34 L117.40,190.62 L117.41,191.91 L117.41,193.19 L117.42,194.47 L117.42,195.76 L117.43,197.04 L117.43,198.33 L117.44,199.61 L117.45,200.89 L117.45,202.18 L117.46,203.46 L117.46,204.75 L117.47,206.03 L117.47,207.31 L117.48,208.60 L117.49,209.88 L117.49,211.17 L117.50,212.45 L117.51,213.73 L117.51,215.02 L117.52,216.30 L117.53,217.59 L117.53,218.87 L117.54,220.15 L117.55,221.44 L117.55,222.72 L117.56,224.01 L117.57,225.29 L117.58,226.57 L117.59,227.86 L117.59,229.14 L117.60,230.43 L117.61,231.71 L117.62,232.99 L117.63,234.28 L117.64,235.56 L117.65,236.85 L117.66,238.13 L117.67,239.41 L117.68,240.70 L117.69,241.98 L117.70,243.27 L117.71,244.55 L117.72,245.83 L117.73,247.12 L117.75,248.40 L117.76,249.69 L117.77,250.97 L117.78,252.25 L117.79,253.54 L117.81,254.82 L117.82,256.11 L117.83,257.39 L117.84,258.67 L117.86,259.96 L117.87,261.24 L117.88,262.53 L117.90,263.81 L117.91,265.09 L117.92,266.38 L117.94,267.66 L117.95,268.94 L117.97,270.23 L117.98,271.51 L118.00,272.80 L118.01,274.08 L118.03,275.36 L118.04,276.65 L118.06,277.93 L118.07,279.22 L118.09,280.50 L118.10,281.78 L118.12,283.07 L118.13,284.35 L118.15,285.64 L118.16,286.92 L118.18,288.20 L118.20,289.49 L118.21,290.77 L118.23,292.06 L118.25,293.34 L118.26,294.62 L118.28,295.91 L118.30,297.19 L118.31,298.48 L118.33,299.76 L118.35,301.04 L118.36,302.33 L118.38,303.61 L118.40,304.90 L118.41,306.18 L118.43,307.46 L118.45,308.75 L118.46,310.03 L118.48,311.32 L118.50,312.60 L118.52,313.88 L118.53,315.17 L118.55,316.45 L118.57,317.73 L118.59,319.02 L118.60,320.30 L118.62,321.59 L118.64,322.87 L118.66,324.15 L118.68,325.44 L118.69,326.72 L118.71,328.01 L118.73,329.29 L118.75,330.57 L118.77,331.86 L118.78,333.14 L118.80,334.43 L118.82,335.71 L118.84,336.99 L118.86,338.28 L118.88,339.56 L118.90,340.85 L118.92,342.13 L118.94,343.41 L118.96,344.70 L118.98,345.98 L119.00,347.26 L119.02,348.55 L119.04,349.83 L119.06,351.12 L119.08,352.40 L119.10,353.68 L119.12,354.97 L119.14,356.25 L119.16,357.54 L119.19,358.82 L119.21,360.10 L119.23,361.39 L119.25,362.67 L119.27,363.96 L119.30,365.24 L119.32,366.52 L119.34,367.81 L119.37,369.09 L119.39,370.37 L119.41,371.66 L119.44,372.94 L119.46,374.23 L119.48,375.51 L119.51,376.79 L119.53,378.08 L119.56,379.36 L119.58,380.65 L119.61,381.93 L119.64,383.21 L119.66,384.50 L119.69,385.78 L119.72,387.06 L119.74,388.35 L119.77,389.63 L119.80,390.92 L119.82,392.20 L119.85,393.48 L119.88,394.77 L119.91,396.05 L119.94,397.33 L119.97,398.62 L120.00,399.90 L120.03,401.18 L120.06,402.47 L120.09,403.75 L120.12,405.03 L120.16,406.32 L120.19,407.60 L120.23,408.89 L120.26,410.17 L120.30,411.45 L120.34,412.74 L120.37,414.02 L120.41,415.30 L120.45,416.59 L120.49,417.87 L120.53,419.15 L120.57,420.44 L120.61,421.72 L120.65,423.00 L120.70,424.29 L120.74,425.57 L120.78,426.85 L120.83,428.14 L120.87,429.42 L120.91,430.70 L120.96,431.99 L121.00,433.27 L121.05,434.55 L121.09,435.84 L121.14,437.12 L121.18,438.40 L121.23,439.69 L121.28,440.97 L121.32,442.25 L121.37,443.54 L121.41,444.82 L121.46,446.10 L121.51,447.39 L121.55,448.67 L121.60,449.95 L121.64,451.24 L121.69,452.52 L121.73,453.80 L121.78,455.09 L121.82,456.37 L121.87,457.65 L121.91,458.94 L121.96,460.22 L122.00,461.50 L122.05,462.79 L122.09,464.07 L122.14,465.35 L122.18,466.64 L122.23,467.92 L122.27,469.21 L122.32,470.49 L122.37,471.77 L122.41,473.06 L122.46,474.34 L122.51,475.62 L122.56,476.91 L122.61,478.19 L122.66,479.47 L122.71,480.76 L122.77,482.04 L122.82,483.32 L122.88,484.61 L122.93,485.89 L122.99,487.17 L123.05,488.45 L123.11,489.74 L123.17,491.02 L123.23,492.30 L123.30,493.58 L123.37,494.86 L123.43,496.14 L123.50,497.43 L123.58,498.71 L123.65,499.99 L123.73,501.27 L123.81,502.55 L123.89,503.83 L123.99,505.11 L124.08,506.39 L124.18,507.67 L124.28,508.95 L124.39,510.23 L124.50,511.51 L124.61,512.79 L124.73,514.07 L124.85,515.35 L124.97,516.63 L125.09,517.91 L125.22,519.18 L125.35,520.46 L125.48,521.74 L125.61,523.02 L125.74,524.30 L125.88,525.57 L126.01,526.85 L126.15,528.13 L126.29,529.40 L126.42,530.68 L126.57,531.96 L126.72,533.23 L126.87,534.51 L127.03,535.78 L127.20,537.05 L127.37,538.33 L127.54,539.60 L127.72,540.87 L127.90,542.14 L128.10,543.41 L128.29,544.68 L128.50,545.95 L128.72,547.21 L128.96,548.47 L129.21,549.73 L129.48,550.99 L129.77,552.24 L130.08,553.49 L130.40,554.73 L130.74,555.97 L131.09,557.20 L131.46,558.43 L131.85,559.66 L132.26,560.88 L132.70,562.09 L133.15,563.29 L133.64,564.47 L134.16,565.65 L134.70,566.81 L135.28,567.96 L135.89,569.10 L136.51,570.22 L137.15,571.33 L137.82,572.44 L138.51,573.53 L139.24,574.61 L140.01,575.64 L140.82,576.61 L141.69,577.56 L142.62,578.52 L143.62,579.38 L144.68,580.05 L145.81,580.52 L147.04,580.95 L148.32,581.26 L149.61,581.40 L150.88,581.40 L152.17,581.40 L153.46,581.40 L154.74,581.40 L156.04,581.44 L157.33,581.53 L158.60,581.65 L159.84,581.86 L161.07,582.31 L162.23,582.90 L163.31,583.54 L164.33,584.34 L165.29,585.24 L166.16,586.17 L166.96,587.15 L167.69,588.20 L168.39,589.30 L169.06,590.41 L169.73,591.51 L170.38,592.62 L171.00,593.74 L171.62,594.87 L172.22,596.00 L172.81,597.14 L173.40,598.29 L173.96,599.44 L174.50,600.61 L175.06,601.77 L175.63,602.92 L176.25,604.04 L176.90,605.14 L177.59,606.23 L178.30,607.30 L212.47,607.40" fill="none" stroke="#d5621b" stroke-width="3.7" stroke-linejoin="round" stroke-linecap="round"/>
<line x1="212.66" y1="624.8" x2="212.66" y2="137.0" stroke="#161616" stroke-width="1.15" stroke-dasharray="5.5 3.49" stroke-dashoffset="0.6"/>
<line x1="319.21" y1="624.8" x2="319.21" y2="137.0" stroke="#161616" stroke-width="1.15" stroke-dasharray="5.5 3.49" stroke-dashoffset="0.6"/>
<line x1="425.77" y1="624.8" x2="425.77" y2="137.0" stroke="#161616" stroke-width="1.15" stroke-dasharray="5.5 3.49" stroke-dashoffset="0.6"/>
<line x1="532.33" y1="624.8" x2="532.33" y2="137.0" stroke="#161616" stroke-width="1.15" stroke-dasharray="5.5 3.49" stroke-dashoffset="0.6"/>
</g>
<rect x="84.6" y="147.0" width="585.8" height="477.79999999999995" fill="none" stroke="#111" stroke-width="1.45"/>
<line x1="106.10" y1="624.8" x2="106.10" y2="636.5999999999999" stroke="#111" stroke-width="1.3"/>
<line x1="200.06" y1="624.8" x2="200.06" y2="636.5999999999999" stroke="#111" stroke-width="1.3"/>
<line x1="294.03" y1="624.8" x2="294.03" y2="636.5999999999999" stroke="#111" stroke-width="1.3"/>
<line x1="388.00" y1="624.8" x2="388.00" y2="636.5999999999999" stroke="#111" stroke-width="1.3"/>
<line x1="481.96" y1="624.8" x2="481.96" y2="636.5999999999999" stroke="#111" stroke-width="1.3"/>
<line x1="575.92" y1="624.8" x2="575.92" y2="636.5999999999999" stroke="#111" stroke-width="1.3"/>
<line x1="669.89" y1="624.8" x2="669.89" y2="636.5999999999999" stroke="#111" stroke-width="1.3"/>
<line x1="84.6" y1="607.40" x2="72.8" y2="607.40" stroke="#111" stroke-width="1.3"/>
<line x1="84.6" y1="532.32" x2="72.8" y2="532.32" stroke="#111" stroke-width="1.3"/>
<line x1="84.6" y1="457.24" x2="72.8" y2="457.24" stroke="#111" stroke-width="1.3"/>
<line x1="84.6" y1="382.16" x2="72.8" y2="382.16" stroke="#111" stroke-width="1.3"/>
<line x1="84.6" y1="307.08" x2="72.8" y2="307.08" stroke="#111" stroke-width="1.3"/>
<line x1="84.6" y1="232.00" x2="72.8" y2="232.00" stroke="#111" stroke-width="1.3"/>
<line x1="84.6" y1="156.92" x2="72.8" y2="156.92" stroke="#111" stroke-width="1.3"/>
<rect x="442.2" y="164.8" width="210.7" height="129.5" fill="#ffffff" stroke="#222" stroke-width="1.3"/>
<line x1="460.0" y1="181.3" x2="490.1" y2="181.3" stroke="#6cbce8" stroke-width="4.3" stroke-linecap="round"/>
<line x1="460.0" y1="203.8" x2="490.1" y2="203.8" stroke="#0a0a0a" stroke-width="4.3" stroke-linecap="round"/>
<line x1="460.0" y1="226.3" x2="490.1" y2="226.3" stroke="#e3e746" stroke-width="4.3" stroke-linecap="round"/>
<line x1="460.0" y1="248.8" x2="490.1" y2="248.8" stroke="#d5621b" stroke-width="4.3" stroke-linecap="round"/>
<line x1="459.9" y1="271.3" x2="471.0" y2="271.3" stroke="#0a0a0a" stroke-width="3.3" stroke-linecap="round"/>
<line x1="479.1" y1="271.3" x2="489.7" y2="271.3" stroke="#0a0a0a" stroke-width="3.3" stroke-linecap="round"/>
</svg>
<div class="t b c" style="font-size:21.5px;left:364.3px;top:-1.5px">GenomeScope Profile</div>
<div class="t b c" style="font-size:19.85px;left:364.7px;top:43.8px">len:494, 853, 336 bp uniq:41%</div>
<div class="t b c" style="font-size:19.8px;left:364.7px;top:70.3px">aa:97.8% ab:2.17%</div>
<div class="t b c" style="font-size:19.76px;left:364.75px;top:97.9px">kcov:56.7 err:0.177% dup:1.43 k:17 p:2</div>
<div class="t leg" style="top:170.8px">observed</div>
<div class="t leg" style="top:193.3px">full model</div>
<div class="t leg" style="top:215.8px">unique sequences</div>
<div class="t leg" style="top:238.3px">errors</div>
<div class="t leg" style="top:260.8px">kmer-peaks</div>
<div class="t xt" style="left:106.3px">0</div>
<div class="t xt" style="left:200.1px">50</div>
<div class="t xt" style="left:293.5px">100</div>
<div class="t xt" style="left:387.3px">150</div>
<div class="t xt" style="left:480.3px">200</div>
<div class="t xt" style="left:574.6px">250</div>
<div class="t xt" style="left:667.5px">300</div>
<div class="t yt" style="top:607.4px">0e+00</div>
<div class="t yt" style="top:457.2px">2e+06</div>
<div class="t yt" style="top:307.1px">4e+06</div>
<div class="t yt" style="top:156.9px">6e+06</div>
<div class="t c" style="font-size:21.5px;left:371.5px;top:671.5px">Coverage</div>
<div class="t" style="font-size:21.5px;left:-1.8px;top:395.5px;transform-origin:0 0;transform:rotate(-90deg) translateX(-50%)">Frequency</div>
</body></html>
